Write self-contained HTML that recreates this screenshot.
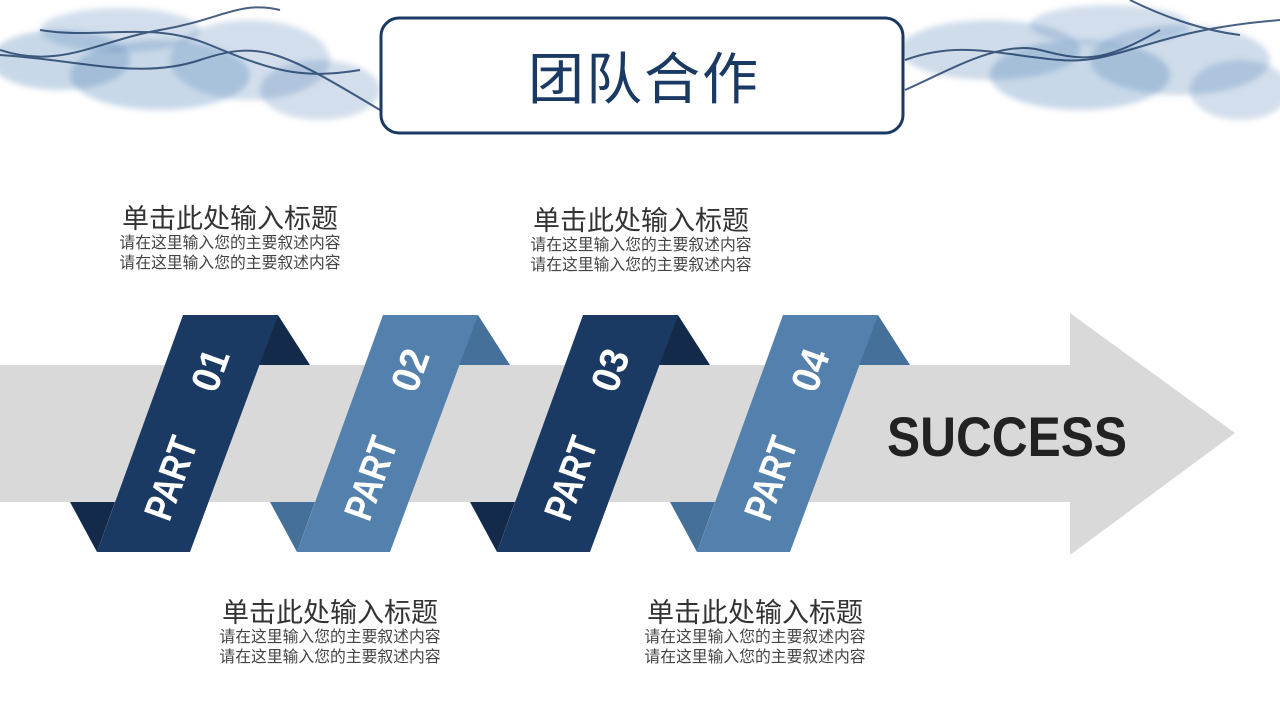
<!DOCTYPE html>
<html><head><meta charset="utf-8"><style>
html,body{margin:0;padding:0;background:#fff;}
body{width:1280px;height:720px;overflow:hidden;position:relative;font-family:"Liberation Sans","Noto Sans CJK SC",sans-serif;}
.blk{position:absolute;text-align:center;color:#444;width:300px;}
.blk .t{font-size:27px;color:#333;line-height:30px;}
.blk .s{font-size:15.8px;line-height:20px;color:#444;}
</style></head><body>
<svg width="1280" height="720" style="position:absolute;left:0;top:0">
<defs><filter id="b"><feGaussianBlur stdDeviation="3"/></filter></defs>
<g filter="url(#b)" fill="#4a7db3">
<ellipse cx="60" cy="60" rx="70" ry="30" opacity=".3"/>
<ellipse cx="160" cy="75" rx="90" ry="35" opacity=".3"/>
<ellipse cx="250" cy="60" rx="80" ry="40" opacity=".25"/>
<ellipse cx="320" cy="90" rx="60" ry="30" opacity=".25"/>
<ellipse cx="120" cy="30" rx="80" ry="22" opacity=".25"/>
<ellipse cx="990" cy="50" rx="90" ry="30" opacity=".27"/>
<ellipse cx="1080" cy="75" rx="90" ry="35" opacity=".3"/>
<ellipse cx="1180" cy="60" rx="90" ry="35" opacity=".27"/>
<ellipse cx="1240" cy="90" rx="50" ry="30" opacity=".25"/>
<ellipse cx="1110" cy="25" rx="80" ry="20" opacity=".25"/>
</g>
<g fill="none" stroke="#1b3a63" stroke-width="2" opacity=".8">
<path d="M0 50 C60 70 100 40 160 30 S240 0 280 10"/>
<path d="M0 55 C80 60 140 80 200 60 S280 50 380 110"/>
<path d="M40 30 C100 40 150 20 210 45 S300 80 360 70"/>
<path d="M905 60 C960 40 1000 55 1060 60 S1150 30 1280 20"/>
<path d="M905 90 C950 70 1000 40 1040 50 S1100 65 1160 30"/>
<path d="M1130 0 C1160 15 1200 30 1240 35"/>
</g>
<polygon points="0,365 1070,365 1070,313 1235,433 1070,555 1070,502 0,502" fill="#d9d9d9"/>
<polygon points="278,315 310,365 258,365" fill="#142a4a"/>
<polygon points="70,502 115,502 97,552" fill="#142a4a"/>
<polygon points="183,315 278,315 190,552 97,552" fill="#1b3a63"/>
<polygon points="478,315 510,365 458,365" fill="#44709a"/>
<polygon points="270,502 315,502 297,552" fill="#44709a"/>
<polygon points="383,315 478,315 390,552 297,552" fill="#5380ad"/>
<polygon points="678,315 710,365 658,365" fill="#142a4a"/>
<polygon points="470,502 515,502 497,552" fill="#142a4a"/>
<polygon points="583,315 678,315 590,552 497,552" fill="#1b3a63"/>
<polygon points="878,315 910,365 858,365" fill="#44709a"/>
<polygon points="670,502 715,502 697,552" fill="#44709a"/>
<polygon points="783,315 878,315 790,552 697,552" fill="#5380ad"/>
<g fill="#fff" font-family="Liberation Sans Narrow, Liberation Sans, sans-serif" font-weight="bold" font-size="40">
<g transform="translate(187,433) rotate(-70)"><text x="-48" y="14" text-anchor="middle" textLength="85" lengthAdjust="spacingAndGlyphs">PART</text><text x="67" y="14" text-anchor="middle" textLength="42" lengthAdjust="spacingAndGlyphs">01</text></g>
<g transform="translate(387,433) rotate(-70)"><text x="-48" y="14" text-anchor="middle" textLength="85" lengthAdjust="spacingAndGlyphs">PART</text><text x="67" y="14" text-anchor="middle" textLength="42" lengthAdjust="spacingAndGlyphs">02</text></g>
<g transform="translate(587,433) rotate(-70)"><text x="-48" y="14" text-anchor="middle" textLength="85" lengthAdjust="spacingAndGlyphs">PART</text><text x="67" y="14" text-anchor="middle" textLength="42" lengthAdjust="spacingAndGlyphs">03</text></g>
<g transform="translate(787,433) rotate(-70)"><text x="-48" y="14" text-anchor="middle" textLength="85" lengthAdjust="spacingAndGlyphs">PART</text><text x="67" y="14" text-anchor="middle" textLength="42" lengthAdjust="spacingAndGlyphs">04</text></g>
</g>
<text x="887" y="456" font-family="Liberation Sans, sans-serif" font-weight="bold" font-size="56" fill="#222" textLength="240" lengthAdjust="spacingAndGlyphs">SUCCESS</text>
<rect x="381" y="18" width="522" height="115" rx="18" fill="#fff" stroke="#1b3a63" stroke-width="3"/>
<text x="644" y="99" text-anchor="middle" font-family="Liberation Sans, Noto Sans CJK SC, sans-serif" font-size="56" fill="#1b3a63" letter-spacing="2">团队合作</text>
</svg>
<div class="blk" style="left:80px;top:204px"><div class="t">单击此处输入标题</div><div class="s">请在这里输入您的主要叙述内容</div><div class="s">请在这里输入您的主要叙述内容</div></div>
<div class="blk" style="left:491px;top:206px"><div class="t">单击此处输入标题</div><div class="s">请在这里输入您的主要叙述内容</div><div class="s">请在这里输入您的主要叙述内容</div></div>
<div class="blk" style="left:180px;top:598px"><div class="t">单击此处输入标题</div><div class="s">请在这里输入您的主要叙述内容</div><div class="s">请在这里输入您的主要叙述内容</div></div>
<div class="blk" style="left:605px;top:598px"><div class="t">单击此处输入标题</div><div class="s">请在这里输入您的主要叙述内容</div><div class="s">请在这里输入您的主要叙述内容</div></div>
</body></html>
